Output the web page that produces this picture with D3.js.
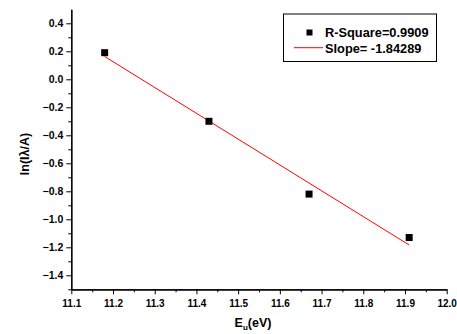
<!DOCTYPE html>
<html><head><meta charset="utf-8">
<script src="https://cdn.jsdelivr.net/npm/d3@7"></script>
<style>body{margin:0;background:#fff}svg{display:block}text{font-family:Arial,"Liberation Sans",sans-serif;font-weight:bold}</style>
</head><body>
<script>
const energies = [11.18, 11.43, 11.67, 11.91];
const lnValues = [0.19, -0.30, -0.82, -1.13];
const xTicks = [11.1, 11.2, 11.3, 11.4, 11.5, 11.6, 11.7, 11.8, 11.9, 12.0];
const yTicks = [-1.4, -1.2, -1.0, -0.8, -0.6, -0.4, -0.2, 0.0, 0.2, 0.4];
const legendLabels = ["R-Square=0.9909", "Slope= -1.84289"];

const W = 457, H = 334;
const svg = d3.select("body").append("svg").attr("width", W).attr("height", H);
const x = d3.scaleLinear().domain([11.1, 12.0]).range([71.3, 446.7]);
const y = d3.scaleLinear().domain([-1.5, 0.5]).range([289.3, 9.3]);

// linear fit
const n = energies.length;
const mx = d3.mean(energies), my = d3.mean(lnValues);
let sxy = 0, sxx = 0;
for (let i = 0; i < n; i++) { sxy += (energies[i]-mx)*(lnValues[i]-my); sxx += (energies[i]-mx)**2; }
const slope = sxy/sxx, icpt = my - slope*mx;

// minor ticks
const xMinor = d3.range(0, 18).map(i => 11.15 + i*0.1).filter(v => v < 12.0);
const yMinor = d3.range(0, 10).map(i => -1.5 + i*0.2);

const gx = svg.append("g").attr("transform", `translate(0,${y(-1.5)})`);
gx.call(d3.axisBottom(x).tickValues(xTicks).tickFormat(d3.format(".1f")).tickSize(5).tickSizeOuter(0));
gx.append("g").call(d3.axisBottom(x).tickValues(xMinor).tickFormat("").tickSize(3).tickSizeOuter(0));
gx.selectAll("text").attr("font-size", 10).attr("fill", "#000").attr("dy", "1em");

const gy = svg.append("g").attr("transform", `translate(${x(11.1)},0)`);
gy.call(d3.axisLeft(y).tickValues(yTicks).tickFormat(d3.format(".1f")).tickSize(5).tickSizeOuter(0));
gy.append("g").call(d3.axisLeft(y).tickValues(yMinor).tickFormat("").tickSize(3).tickSizeOuter(0));
gy.selectAll("text").attr("font-size", 10.5).attr("fill", "#000").attr("x", -8);
svg.selectAll(".domain").attr("stroke", "#000").attr("stroke-width", 1.2);
svg.selectAll(".tick line").attr("stroke", "#000");

// fit line
const x0 = d3.min(energies), x1 = d3.max(energies);
svg.append("line").attr("x1", x(x0)).attr("y1", y(slope*x0+icpt))
  .attr("x2", x(x1)).attr("y2", y(slope*x1+icpt)).attr("stroke", "#ff0000").attr("stroke-width", 1);

// points
svg.selectAll("rect.pt").data(energies).enter().append("rect").attr("class", "pt")
  .attr("x", (d) => x(d) - 3.5).attr("y", (d, i) => y(lnValues[i]) - 3.5)
  .attr("width", 7).attr("height", 7).attr("fill", "#000");

// axis titles
const xt = svg.append("text").attr("x", 253).attr("y", 327).attr("text-anchor", "middle").attr("font-size", 12.5);
xt.append("tspan").text("E");
xt.append("tspan").attr("font-size", 8).attr("dy", 3).text("u");
xt.append("tspan").attr("dy", -3).text("(eV)");
svg.append("text").attr("transform", "translate(29,154) rotate(-90)").attr("text-anchor", "middle")
  .attr("font-size", 12.5).text("ln(Iλ/A)");

// legend
svg.append("rect").attr("x", 283.5).attr("y", 14).attr("width", 153).attr("height", 47.5)
  .attr("fill", "#fff").attr("stroke", "#000").attr("stroke-width", 1);
svg.append("rect").attr("x", 306.5).attr("y", 29.5).attr("width", 6).attr("height", 6).attr("fill", "#000");
svg.append("line").attr("x1", 294).attr("x2", 323).attr("y1", 47.7).attr("y2", 47.7).attr("stroke", "#ff0000");
svg.append("text").attr("x", 325).attr("y", 37).attr("font-size", 12.8).text(legendLabels[0]);
svg.append("text").attr("x", 325).attr("y", 52.5).attr("font-size", 12.8).text(legendLabels[1]);
</script>
</body></html>
